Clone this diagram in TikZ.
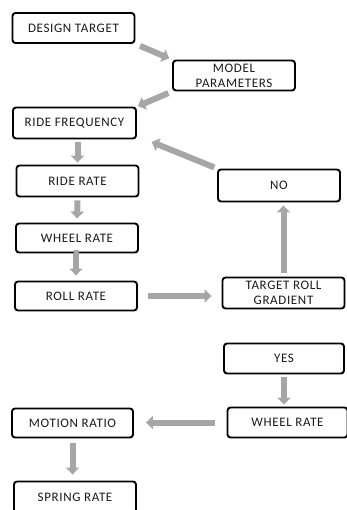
\documentclass[tikz,border=0pt]{standalone}
\usepackage{fontspec}
\setmainfont{Carlito}[LetterSpace=5]
\usetikzlibrary{arrows.meta,calc}
\definecolor{arrowgray}{HTML}{A6A6A6}
\definecolor{textdark}{HTML}{1A1A1A}
\tikzset{
  box/.style={draw=black, line width=1.9pt, rounded corners=3pt, fill=white,
    minimum width=#1, minimum height=30pt, inner sep=0pt, align=center,
    text=textdark, font=\fontsize{13}{15}\selectfont},
  box/.default=122pt,
  flow/.style={draw=arrowgray, line width=6pt,
    -{Triangle[width=13pt,length=7pt]}}
}
\begin{document}
\begin{tikzpicture}[x=1pt,y=-1pt]
\useasboundingbox (0,0) rectangle (346,510);
\node[box] (dt) at (73.5,28) {DESIGN TARGET};
\node[box, minimum height=30pt] (mp) at (234,75.5) {MODEL\\PARAMETERS};
\node[box=123pt, minimum height=31pt] (rf) at (74.5,123) {RIDE FREQUENCY};
\node[box, minimum height=31pt] (rr) at (77.5,181) {RIDE RATE};
\node[box, minimum height=32pt] (no) at (279,185.5) {NO};
\node[box, minimum height=29pt] (wr) at (77,238) {WHEEL RATE};
\node[box, minimum height=29pt] (roll) at (76,296) {ROLL RATE};
\node[box, minimum height=31pt] (trg) at (283.5,293) {TARGET ROLL\\GRADIENT};
\node[box=120pt] (yes) at (284,358.5) {YES};
\node[box=120pt] (wr2) at (287.5,422.5) {WHEEL RATE};
\node[box=121pt, minimum height=29pt] (mr) at (72.5,423) {MOTION RATIO};
\node[box, minimum height=31pt] (sr) at (75,497) {SPRING RATE};

\draw[flow, shorten <=5pt, shorten >=3pt] (dt.south east) -- (mp.north west);
\draw[flow, shorten <=4pt, shorten >=1pt] (mp.south west) -- (rf.north east);
\draw[flow, shorten <=3pt, shorten >=2pt] (rr.north |- rf.south) -- (rr.north);
\draw[flow, shorten <=3pt, shorten >=4pt] (no.north west) -- ($(rf.south east)+(11,1)$);
\draw[flow, shorten <=3pt, shorten >=4pt] (rr.south) -- (wr.north);
\draw[flow, shorten <=3pt, shorten >=5pt] (wr.south) -- (wr.south -| roll.north) -- (roll.north);
\draw[flow, shorten <=10pt, shorten >=10pt] (roll.east) -- (roll.east -| trg.west);
\draw[flow, shorten <=4pt, shorten >=3pt] (trg.north) -- (trg.north |- no.south);
\draw[flow, shorten <=3pt, shorten >=2pt] (yes.south) -- (yes.south |- wr2.north);
\draw[flow, shorten <=12pt, shorten >=12pt] (wr2.west) -- (wr2.west -| mr.east);
\draw[flow, shorten <=5pt, shorten >=6pt] (mr.south) -- (mr.south |- sr.north);
\end{tikzpicture}
\end{document}
